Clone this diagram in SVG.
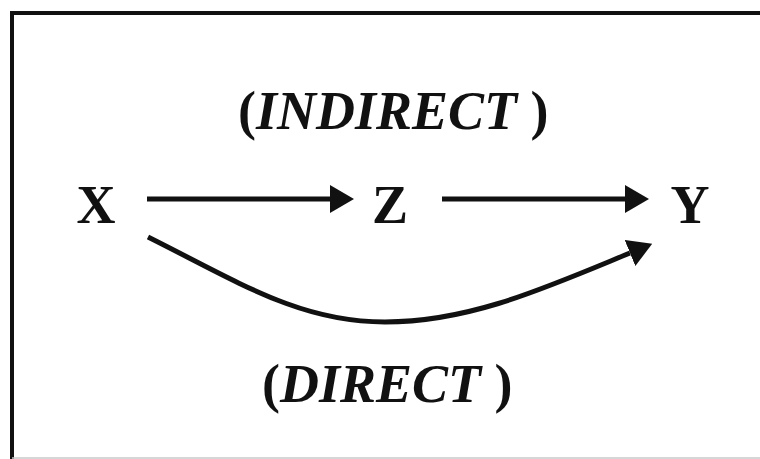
<svg xmlns="http://www.w3.org/2000/svg" width="760" height="459" viewBox="0 0 760 459">
<style>
.node{font-family:"Liberation Serif","Times New Roman",serif;font-weight:bold;font-size:54px;fill:#111}
.lbl{font-family:"Liberation Serif","Times New Roman",serif;font-weight:bold;font-size:54px;fill:#111}
.it{font-style:italic}
.edge{fill:none;stroke:#111;stroke-width:5}
</style>
<defs>
<marker id="ah" viewBox="0 0 24 28" markerWidth="24" markerHeight="28" refX="0" refY="14" orient="auto" markerUnits="userSpaceOnUse">
<path d="M0,0 L24,14 L0,28 z" fill="#111"/>
</marker>
</defs>
<rect x="0" y="0" width="760" height="459" fill="#fff"/>
<path d="M12,459 L12,13 L760,13" fill="none" stroke="#111" stroke-width="4"/>
<line x1="12" y1="458" x2="760" y2="458" stroke="#c8c8c8" stroke-width="1.5"/>
<g id="connectors">
<line class="edge" x1="147" y1="199" x2="330" y2="199" marker-end="url(#ah)"/>
<line class="edge" x1="442" y1="199" x2="625" y2="199" marker-end="url(#ah)"/>
<path class="edge" d="M148,237 C240,283 300,322 385,322 C470,322 545,288 630,253" marker-end="url(#ah)"/>
</g>
<g id="node-x"><text class="node" x="96" y="223" text-anchor="middle">X</text></g>
<g id="node-z"><text class="node" x="390" y="223" text-anchor="middle">Z</text></g>
<g id="node-y"><text class="node" x="690" y="223" text-anchor="middle">Y</text></g>
<g id="label-indirect"><text class="lbl" x="238" y="129">(<tspan class="it">INDIRECT</tspan> )</text></g>
<g id="label-direct"><text class="lbl" x="262" y="402">(<tspan class="it">DIRECT</tspan> )</text></g>
</svg>
